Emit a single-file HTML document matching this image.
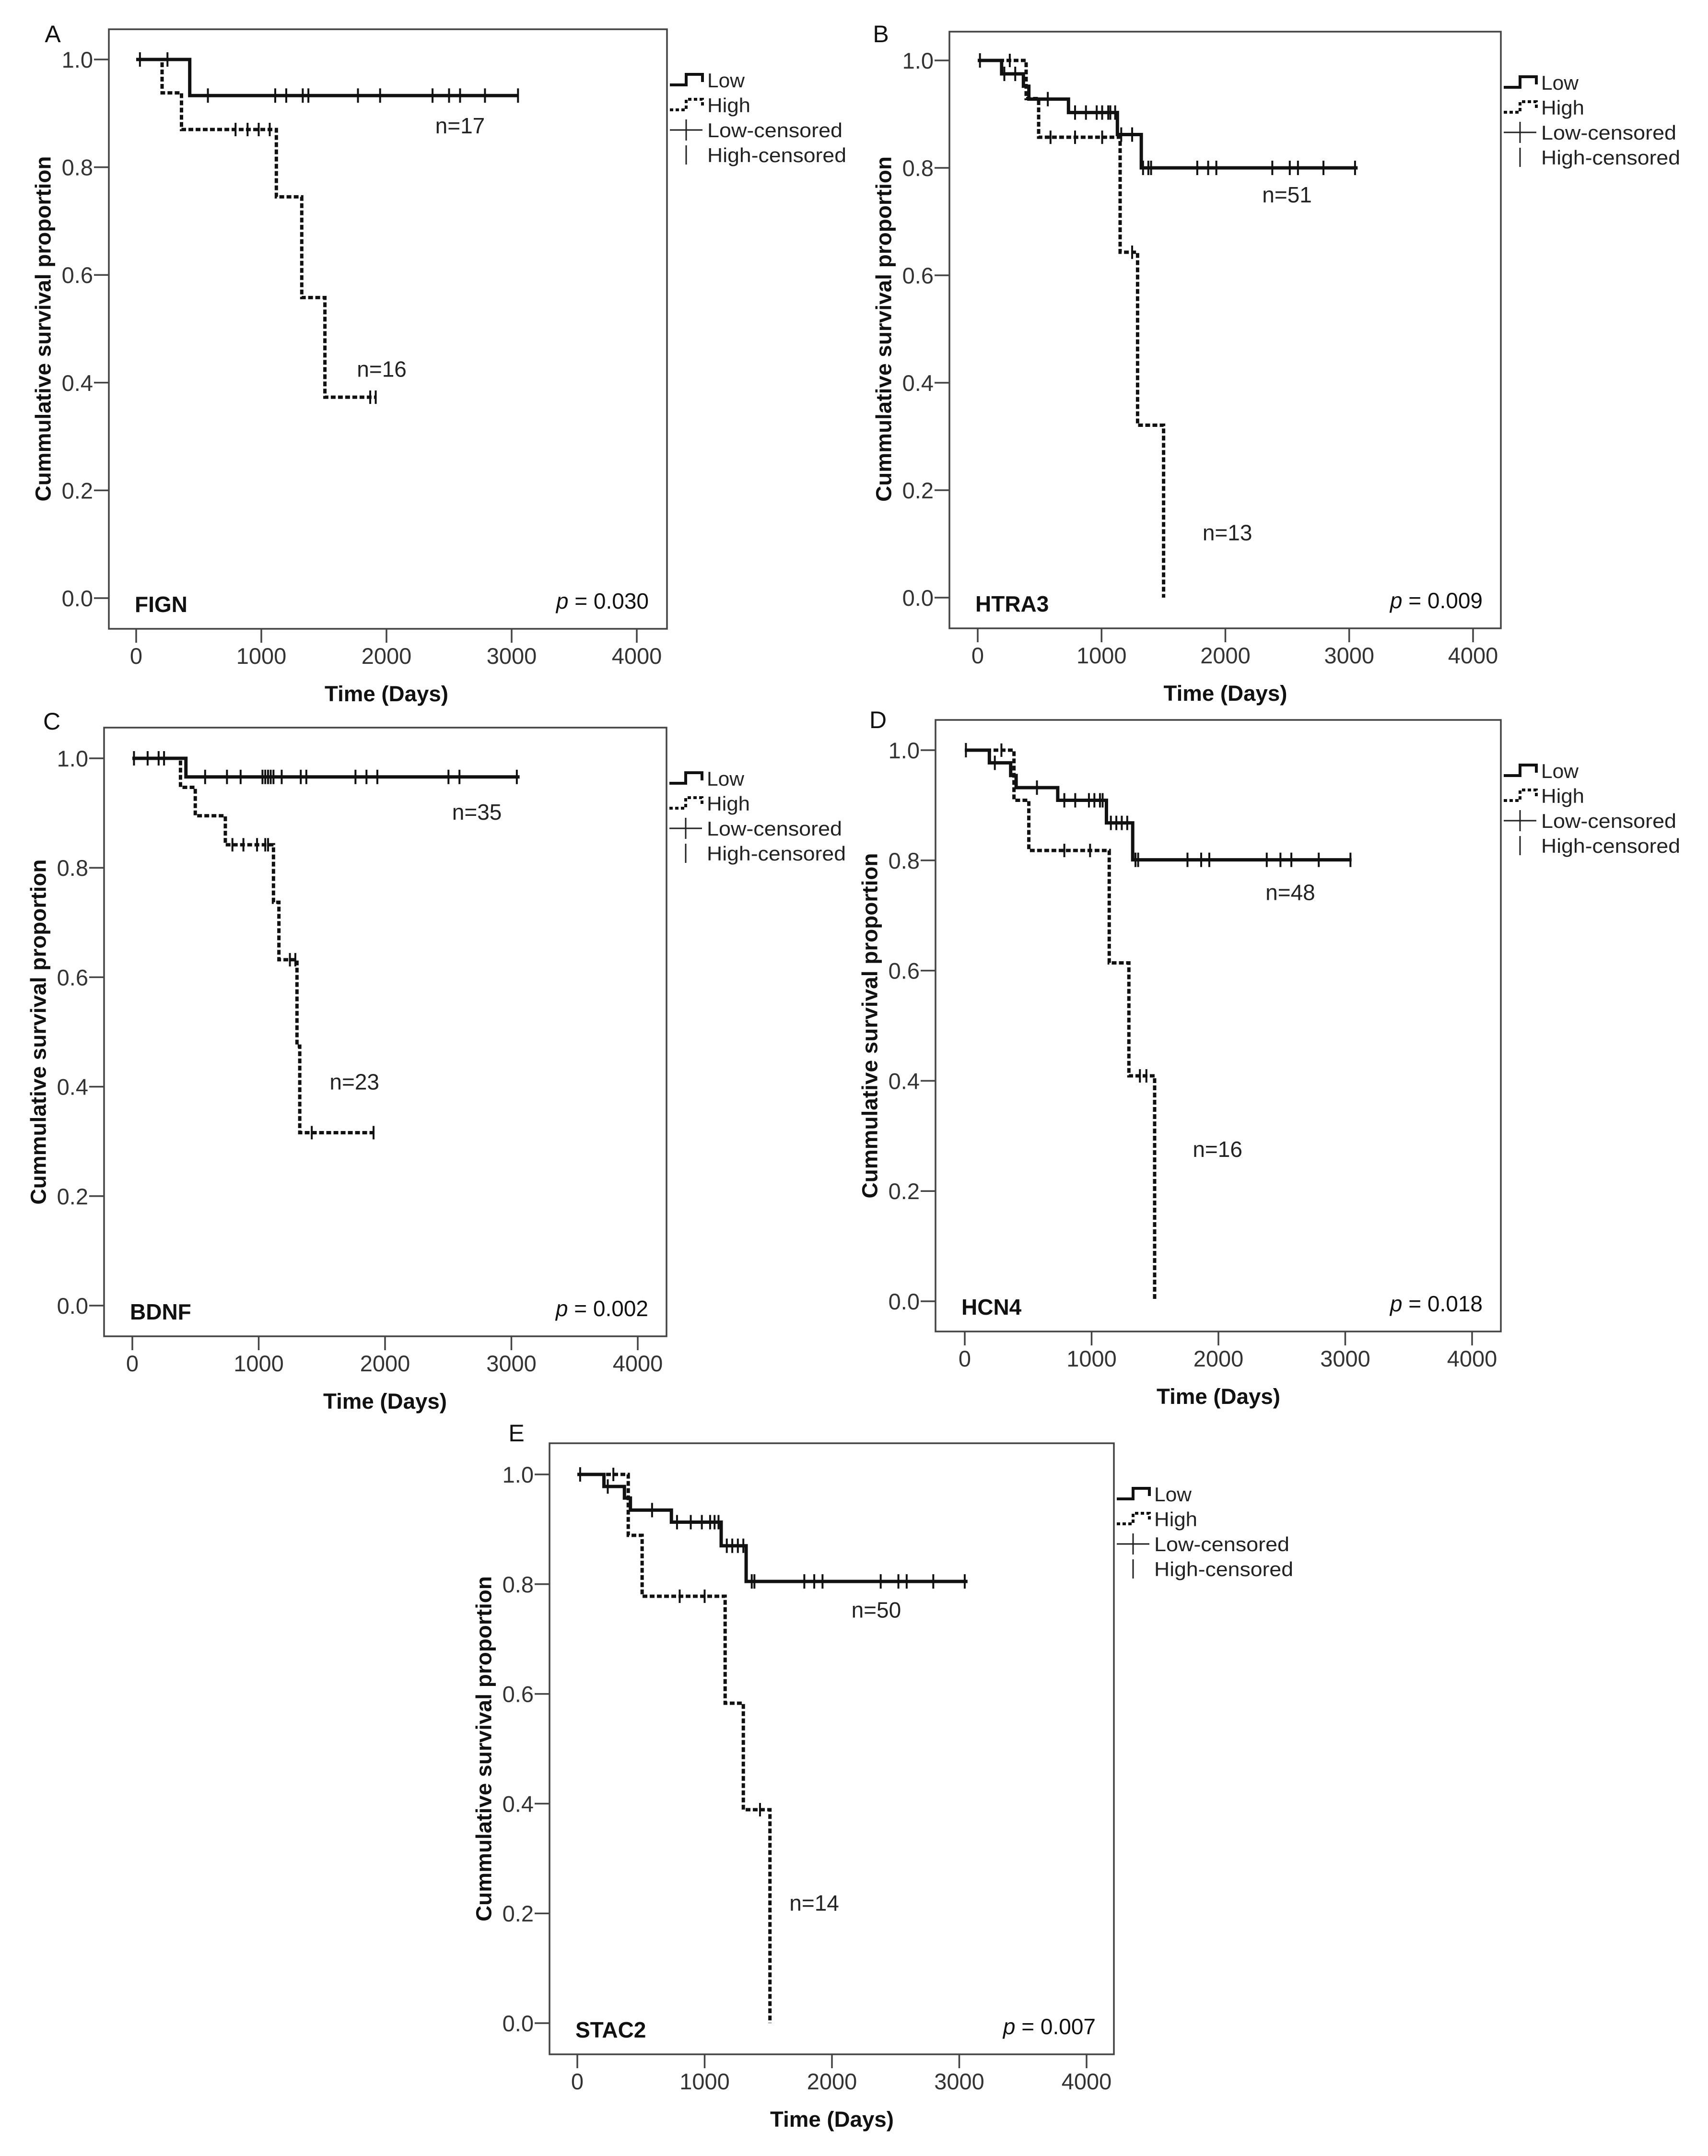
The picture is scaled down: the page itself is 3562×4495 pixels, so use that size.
<!DOCTYPE html>
<html><head><meta charset="utf-8">
<style>
html,body{margin:0;padding:0;background:#fff;}
svg{display:block;}
text{font-family:"Liberation Sans",Arial,sans-serif;}
</style></head>
<body>
<svg id="fig" width="3562" height="4495" viewBox="0 0 3562 4495" xmlns="http://www.w3.org/2000/svg">
<rect x="0" y="0" width="3562" height="4495" fill="#fff"/>
</svg>
<script>
// ---- Data (days, survival proportion) ----
const xTicks = [0, 1000, 2000, 3000, 4000];
const yTicks = [0.0, 0.2, 0.4, 0.6, 0.8, 1.0];

// Panel A: FIGN
const aLowTimes = [428];
const aLowSurv = [0.933];
const aLowEnd = 3050;
const aLowCens = [30, 250, 573, 1111, 1199, 1331, 1376, 1772, 1949, 2368, 2500, 2588, 2787, 3051];
const aHighTimes = [207, 362, 1120, 1323, 1508];
const aHighSurv = [0.938, 0.870, 0.745, 0.558, 0.373];
const aHighEnd = 1914;
const aHighCens = [794, 890, 979, 1067, 1870, 1914];

// Panel B: HTRA3
const bLowTimes = [193, 369, 413, 733, 1128, 1321];
const bLowSurv = [0.975, 0.952, 0.928, 0.903, 0.862, 0.800];
const bLowEnd = 3068;
const bLowCens = [18, 215, 303, 566, 786, 874, 961, 1005, 1054, 1071, 1110, 1159, 1247, 1335, 1378, 1400, 1773, 1861, 1927, 2379, 2520, 2586, 2792, 3047];
const bHighTimes = [391, 492, 1150, 1291, 1501];
const bHighSurv = [0.929, 0.857, 0.643, 0.321, 0.0];
const bHighEnd = 1501;
const bHighCens = [259, 588, 786, 1005, 1247];

// Panel C: BDNF
const cLowTimes = [424];
const cLowSurv = [0.966];
const cLowEnd = 3065;
const cLowCens = [13, 121, 208, 251, 576, 749, 857, 1030, 1052, 1074, 1095, 1117, 1182, 1333, 1377, 1766, 1853, 1939, 2502, 2589, 3043];
const cHighTimes = [381, 498, 736, 1117, 1160, 1303, 1325];
const cHighSurv = [0.947, 0.895, 0.842, 0.737, 0.632, 0.474, 0.316];
const cHighEnd = 1909;
const cHighCens = [792, 879, 987, 1052, 1074, 1247, 1290, 1420, 1909];

// Panel D: HCN4
const dLowTimes = [194, 362, 405, 733, 1117, 1324];
const dLowSurv = [0.977, 0.954, 0.932, 0.909, 0.868, 0.801];
const dLowEnd = 3050;
const dLowCens = [9, 237, 569, 785, 871, 979, 1022, 1066, 1087, 1152, 1195, 1238, 1281, 1346, 1367, 1756, 1864, 1928, 2381, 2489, 2575, 2791, 3041];
const dHighTimes = [388, 505, 1139, 1294, 1497];
const dHighSurv = [0.909, 0.818, 0.614, 0.409, 0.0];
const dHighEnd = 1497;
const dHighCens = [289, 785, 988, 1381, 1432];

// Panel E: STAC2
const eLowTimes = [209, 370, 417, 739, 1130, 1326];
const eLowSurv = [0.978, 0.957, 0.935, 0.913, 0.870, 0.805];
const eLowEnd = 3065;
const eLowCens = [22, 239, 587, 783, 891, 978, 1043, 1078, 1109, 1174, 1217, 1261, 1304, 1370, 1391, 1783, 1861, 1926, 2383, 2522, 2587, 2796, 3043];
const eHighTimes = [400, 509, 1161, 1304, 1513];
const eHighSurv = [0.889, 0.778, 0.583, 0.389, 0.0];
const eHighEnd = 1513;
const eHighCens = [283, 804, 1000, 1435];

// Annotations: [day, survival]
const nLabels = ["n=17","n=16","n=51","n=13","n=35","n=23","n=48","n=16","n=50","n=14"];
const nPos = [[2588,0.877],[1962,0.425],[2498,0.750],[2016,0.121],[2727,0.902],[1758,0.409],[2567,0.742],[1993,0.276],[2348,0.753],[1861,0.219]];
const geneNames = ["FIGN","HTRA3","BDNF","HCN4","STAC2"];
const pValues = ["0.030","0.009","0.002","0.018","0.007"];
const panelLetters = ["A","B","C","D","E"];

// ---- Layout (pixel geometry) ----
const layouts = [
  {l:227,t:61,r:1391,b:1311,x0:284,x4:1328,y0:1247,y1:124,lx:110,ly:88},
  {l:1980,t:66,r:3130,b:1310,x0:2039,x4:3072,y0:1246,y1:126,lx:1837,ly:88},
  {l:217,t:1517,r:1390,b:2786,x0:276,x4:1330,y0:2722,y1:1581,lx:108,ly:1521},
  {l:1951,t:1501,r:3130,b:2776,x0:2012,x4:3070,y0:2713,y1:1564,lx:1831,ly:1518},
  {l:1146,t:3009,r:2323,b:4283,x0:1204,x4:2266,y0:4218,y1:3074,lx:1077,ly:3005}
];
const series = [
  [aLowTimes,aLowSurv,aLowEnd,aLowCens,aHighTimes,aHighSurv,aHighEnd,aHighCens],
  [bLowTimes,bLowSurv,bLowEnd,bLowCens,bHighTimes,bHighSurv,bHighEnd,bHighCens],
  [cLowTimes,cLowSurv,cLowEnd,cLowCens,cHighTimes,cHighSurv,cHighEnd,cHighCens],
  [dLowTimes,dLowSurv,dLowEnd,dLowCens,dHighTimes,dHighSurv,dHighEnd,dHighCens],
  [eLowTimes,eLowSurv,eLowEnd,eLowCens,eHighTimes,eHighSurv,eHighEnd,eHighCens]
];

const NS = "http://www.w3.org/2000/svg";
const svg = document.getElementById("fig");
function mk(tag, attrs, parent) {
  const el = document.createElementNS(NS, tag);
  for (const k in attrs) el.setAttribute(k, attrs[k]);
  (parent || svg).appendChild(el);
  return el;
}
function survAt(times, surv, t) {
  let s = 1.0;
  for (let i = 0; i < times.length; i++) if (times[i] <= t) s = surv[i];
  return s;
}
function stepPath(times, surv, end, X, Y) {
  let d = "M" + X(0) + "," + Y(1.0);
  for (let i = 0; i < times.length; i++) {
    d += " H" + X(times[i]) + " V" + Y(surv[i]);
  }
  const last = times.length ? times[times.length - 1] : 0;
  if (end > last) d += " H" + X(end);
  return d;
}

layouts.forEach((L, p) => {
  const g = mk("g", {});
  
  
  const X = v => L.x0 + (L.x4 - L.x0) * v / 4000;
  const Y = v => L.y0 - (L.y0 - L.y1) * v;

  const letter = mk("text", {x:L.lx, y:L.ly, "font-size":50, "text-anchor":"middle", fill:"#111"}, g);
  letter.textContent = panelLetters[p];
  
  

  const frame = mk("rect", {x:L.l, y:L.t, width:L.r - L.l, height:L.b - L.t, fill:"none", stroke:"#444", "stroke-width":3.5}, g);
  
  

  yTicks.forEach(v => {
    const tk = mk("line", {x1:L.l - 31, x2:L.l, y1:Y(v), y2:Y(v), stroke:"#444", "stroke-width":3.5}, g);
    
    
    const tl = mk("text", {x:L.l - 33, y:Y(v) + 17, "font-size":47, "text-anchor":"end", fill:"#333"}, g);
    tl.textContent = v.toFixed(1);
    
    
  });
  xTicks.forEach(v => {
    const tk = mk("line", {x1:X(v), x2:X(v), y1:L.b, y2:L.b + 29, stroke:"#444", "stroke-width":3.5}, g);
    
    
    const tl = mk("text", {x:X(v), y:L.b + 73, "font-size":47, "text-anchor":"middle", fill:"#333"}, g);
    tl.textContent = String(v);
    
    
  });

  const yc = (L.y0 + L.y1) / 2;
  const yt = mk("text", {x:L.l - 137, y:yc, "font-size":45, "font-weight":"bold", "text-anchor":"middle", "dominant-baseline":"central", fill:"#111", transform:"rotate(-90 " + (L.l - 137) + " " + yc + ")", textLength:720, lengthAdjust:"spacingAndGlyphs"}, g);
  yt.textContent = "Cummulative survival proportion";
  
  

  const xt = mk("text", {x:(L.x0 + L.x4) / 2, y:L.b + 151, "font-size":45, "font-weight":"bold", "text-anchor":"middle", fill:"#111", textLength:258, lengthAdjust:"spacingAndGlyphs"}, g);
  xt.textContent = "Time (Days)";
  
  

  const gene = mk("text", {x:L.l + 54, y:L.b - 35, "font-size":46, "font-weight":"bold", fill:"#111"}, g);
  gene.textContent = geneNames[p];
  
  

  const pv = mk("text", {x:L.r - 38, y:L.b - 42, "font-size":46, "text-anchor":"end", fill:"#111"}, g);
  const pi = mk("tspan", {"font-style":"italic"}, pv);
  pi.textContent = "p";
  const pr = mk("tspan", {}, pv);
  pr.textContent = " = " + pValues[p];
  
  

  const S = series[p];
  const hp = mk("path", {d:stepPath(S[4], S[5], S[6], X, Y), fill:"none", stroke:"#111", "stroke-width":7, "stroke-dasharray":"10 5"}, g);
  
  
  S[7].forEach(t => {
    const c = mk("line", {x1:X(t), x2:X(t), y1:Y(survAt(S[4], S[5], t)) - 14, y2:Y(survAt(S[4], S[5], t)) + 14, stroke:"#111", "stroke-width":4}, g);
    
    
  });
  const lp = mk("path", {d:stepPath(S[0], S[1], S[2], X, Y), fill:"none", stroke:"#111", "stroke-width":7}, g);
  
  
  S[3].forEach(t => {
    const c = mk("line", {x1:X(t), x2:X(t), y1:Y(survAt(S[0], S[1], t)) - 15, y2:Y(survAt(S[0], S[1], t)) + 15, stroke:"#111", "stroke-width":4}, g);
    
    
  });

  [0, 1].forEach(k => {
    const idx = p * 2 + k;
    const nl = mk("text", {x:X(nPos[idx][0]), y:Y(nPos[idx][1]) + 16, "font-size":46, "text-anchor":"middle", fill:"#222"}, g);
    nl.textContent = nLabels[idx];
    
    
  });

  const lg = mk("g", {}, g);
  
  
  const sx = L.r + 6, tx = L.r + 84, ly0 = L.t + 106;
  const rows = ["Low", "High", "Low-censored", "High-censored"];
  const widths = [78, 90, 282, 290];
  rows.forEach((name, i) => {
    const cy = ly0 + i * 52;
    if (i === 0 || i === 1) {
      const sw = mk("path", {d:"M" + sx + "," + (cy + 10) + " H" + (sx + 34) + " V" + (cy - 12) + " H" + (sx + 68) + " V" + (cy + 4), fill:"none", stroke:"#111", "stroke-width":6}, lg);
      if (i === 1) sw.setAttribute("stroke-dasharray", "7 5");
      
      
    } else if (i === 2) {
      mk("line", {x1:sx, x2:sx + 68, y1:cy, y2:cy, stroke:"#222", "stroke-width":3}, lg);
      mk("line", {x1:sx + 34, x2:sx + 34, y1:cy - 22, y2:cy + 22, stroke:"#222", "stroke-width":3}, lg);
    } else {
      mk("line", {x1:sx + 34, x2:sx + 34, y1:cy - 20, y2:cy + 20, stroke:"#222", "stroke-width":3}, lg);
    }
    const t = mk("text", {x:tx, y:cy + 15, "font-size":42, fill:"#222", textLength:widths[i], lengthAdjust:"spacingAndGlyphs"}, lg);
    t.textContent = name;
    
    
  });
});
</script>
</body></html>
